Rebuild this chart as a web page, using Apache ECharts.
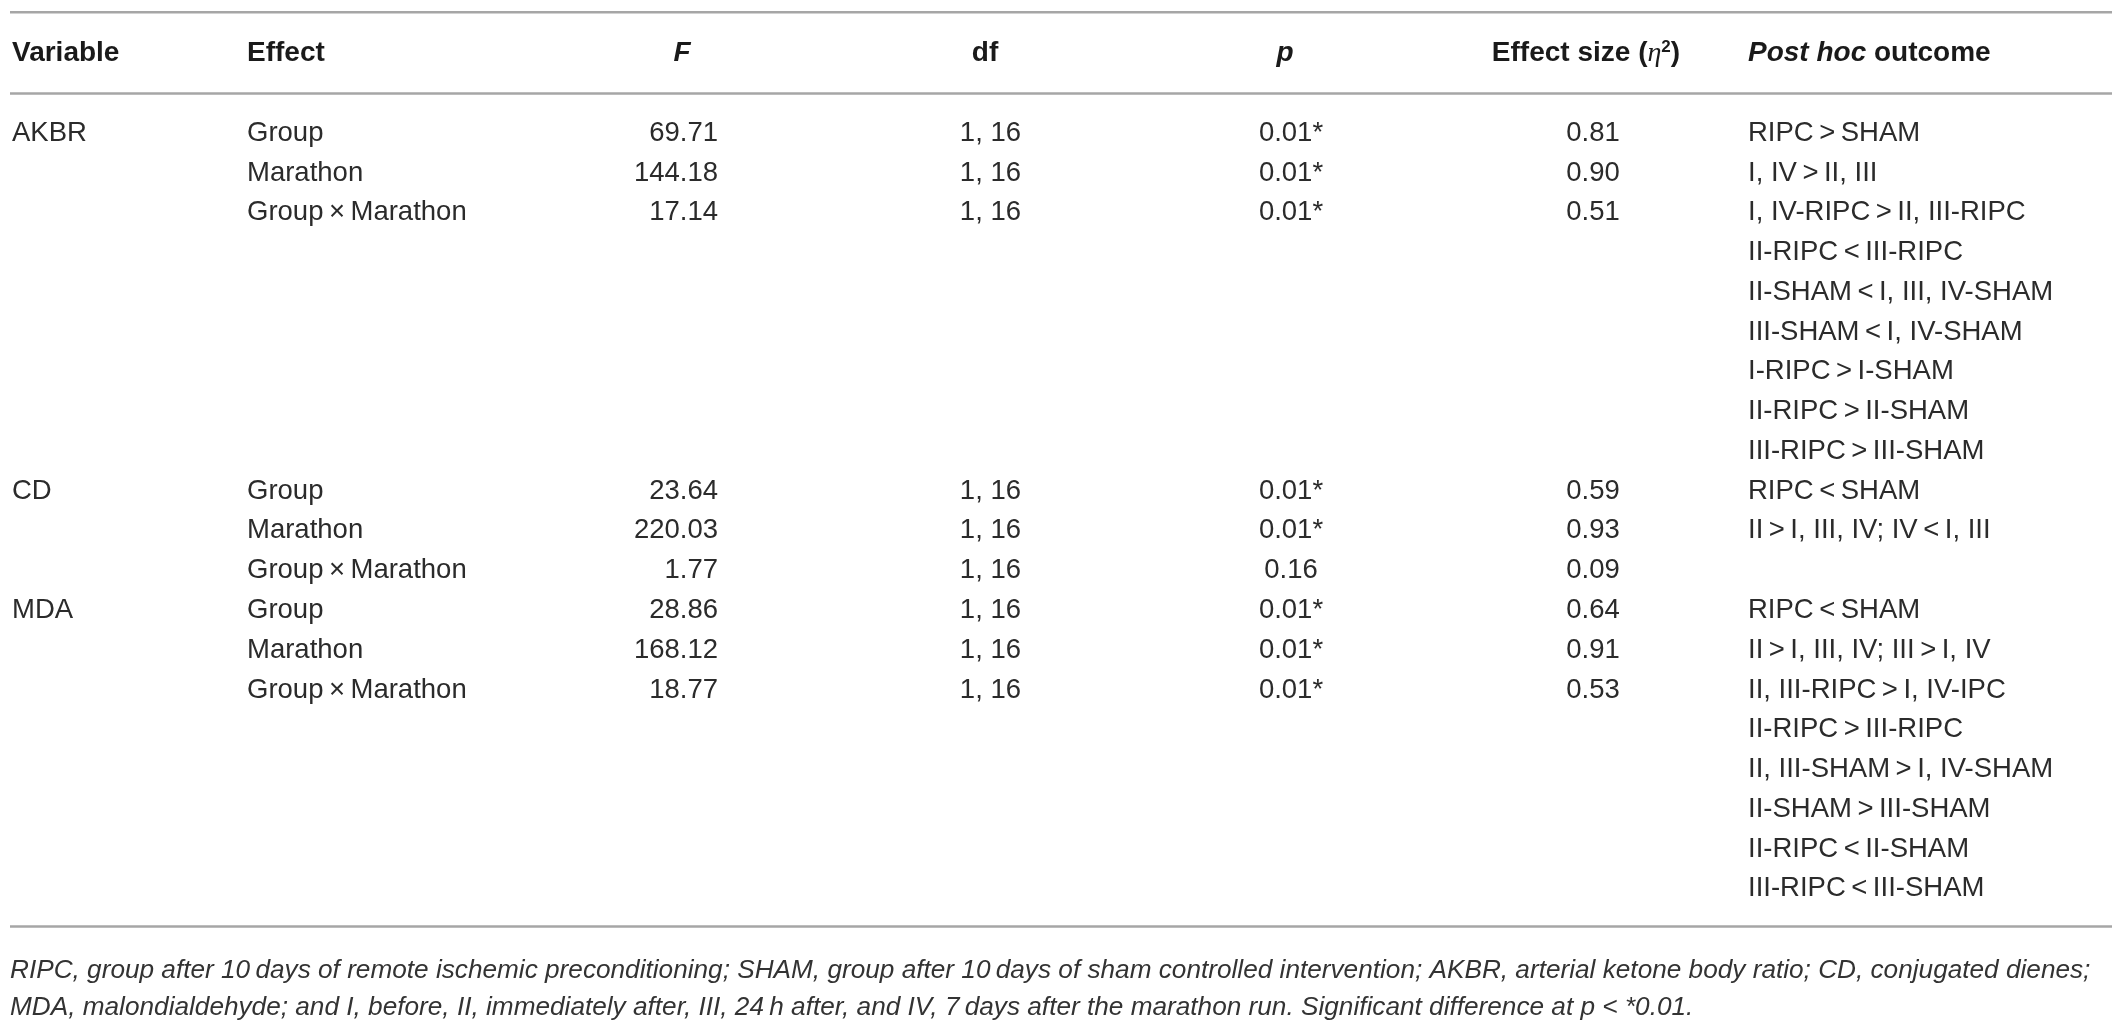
<!DOCTYPE html>
<html>
<head>
<meta charset="utf-8">
<title>Marathon ANOVA table</title>
<script src="https://cdn.jsdelivr.net/npm/echarts@6/dist/echarts.min.js"></script>
<style>html, body { margin: 0; padding: 0; background: #fff; }</style>
</head>
<body>
<div id="main" style="width:2125px;height:1020px;"></div>
<script type="text/javascript">
// ---- table contents ----
var headers = [
    '{b|Variable}',
    '{b|Effect}',
    '{bi|F}',
    '{b|df}',
    '{bi|p}',
    '{b|Effect size (}{eta|η}{sup|2}{b|)}',
    '{bi|Post hoc} {b|outcome}'
];
var variables = ['AKBR', 'CD', 'MDA'];
var effects = ['Group', 'Marathon', 'Group\u2009×\u2009Marathon'];
var fValues = ['69.71', '144.18', '17.14', '23.64', '220.03', '1.77', '28.86', '168.12', '18.77'];
var dfValues = ['1, 16', '1, 16', '1, 16', '1, 16', '1, 16', '1, 16', '1, 16', '1, 16', '1, 16'];
var pValues = ['0.01*', '0.01*', '0.01*', '0.01*', '0.01*', '0.16', '0.01*', '0.01*', '0.01*'];
var etaValues = ['0.81', '0.90', '0.51', '0.59', '0.93', '0.09', '0.64', '0.91', '0.53'];
var postHoc = [
    ['RIPC\u2009>\u2009SHAM'],
    ['I, IV\u2009>\u2009II, III'],
    ['I, IV-RIPC\u2009>\u2009II, III-RIPC', 'II-RIPC\u2009<\u2009III-RIPC', 'II-SHAM\u2009<\u2009I, III, IV-SHAM',
     'III-SHAM\u2009<\u2009I, IV-SHAM', 'I-RIPC\u2009>\u2009I-SHAM', 'II-RIPC\u2009>\u2009II-SHAM', 'III-RIPC\u2009>\u2009III-SHAM'],
    ['RIPC\u2009<\u2009SHAM'],
    ['II\u2009>\u2009I, III, IV; IV\u2009<\u2009I, III'],
    [],
    ['RIPC\u2009<\u2009SHAM'],
    ['II\u2009>\u2009I, III, IV; III\u2009>\u2009I, IV'],
    ['II, III-RIPC\u2009>\u2009I, IV-IPC', 'II-RIPC\u2009>\u2009III-RIPC', 'II, III-SHAM\u2009>\u2009I, IV-SHAM',
     'II-SHAM\u2009>\u2009III-SHAM', 'II-RIPC\u2009<\u2009II-SHAM', 'III-RIPC\u2009<\u2009III-SHAM']
];
var footnotes = [
    'RIPC, group after 10\u2009days of remote ischemic preconditioning; SHAM, group after 10\u2009days of sham controlled intervention; AKBR, arterial ketone body ratio; CD, conjugated dienes;',
    'MDA, malondialdehyde; and I, before, II, immediately after, III, 24\u2009h after, and IV, 7\u2009days after the marathon run. Significant difference at p < *0.01.'
];

// ---- layout (x in pixels, y in table rows) ----
var cols = [
    { x: 12,   align: 'left',   hx: 12,   halign: 'left' },
    { x: 247,  align: 'left',   hx: 247,  halign: 'left' },
    { x: 718,  align: 'right',  hx: 682,  halign: 'center' },
    { x: 1021, align: 'right',  hx: 985,  halign: 'center' },
    { x: 1291, align: 'center', hx: 1285, halign: 'center' },
    { x: 1593, align: 'center', hx: 1586, halign: 'center' },
    { x: 1748, align: 'left',   hx: 1748, halign: 'left' }
];
var headerRow = -2.0;
var ruleRows = [-3.04, -1.0, 19.95];
var footRows = [21.06, 22.0];
var ruleLeft = 10, ruleRight = 2112;

var FONT = '"Liberation Sans", Arial, sans-serif';
var bodyStyle = { fontSize: 27.5, fontFamily: FONT };
var headRich = {
    b: { fontSize: 28, fontFamily: FONT, fontWeight: 'bold', fill: '#1a1a1a' },
    bi: { fontSize: 28, fontFamily: FONT, fontWeight: 'bold', fontStyle: 'italic', fill: '#1a1a1a' },
    eta: { fontSize: 28, fontFamily: '"Liberation Serif", serif', fontStyle: 'italic', fill: '#1a1a1a' },
    sup: { fontSize: 17, fontFamily: FONT, fontWeight: 'bold', fill: '#1a1a1a', verticalAlign: 'top', padding: [0, 0, 12, 0] }
};

// ---- build cells ----
var cells = [];
function addCell(col, row, text, kind) {
    cells.push({ col: col, row: row, text: text, kind: kind });
}
headers.forEach(function (h, c) { addCell(c, headerRow, h, 'head'); });

var row = 0;
for (var i = 0; i < fValues.length; i++) {
    var v = Math.floor(i / 3), e = i % 3;
    if (e === 0) addCell(0, row, variables[v], 'body');
    addCell(1, row, effects[e], 'body');
    addCell(2, row, fValues[i], 'body');
    addCell(3, row, dfValues[i], 'body');
    addCell(4, row, pValues[i], 'body');
    addCell(5, row, etaValues[i], 'body');
    postHoc[i].forEach(function (line, k) { addCell(6, row + k, line, 'body'); });
    row += Math.max(1, postHoc[i].length);
}
footnotes.forEach(function (line, k) { addCell(0, footRows[k], line, 'foot'); });

var myChart = echarts.init(document.getElementById('main'), null, { renderer: 'canvas' });

var option = {
    animation: false,
    backgroundColor: '#fff',
    grid: { left: 0, right: 0, top: 2, height: 1018.6 },
    xAxis: { type: 'value', min: 0, max: 2125, show: false },
    yAxis: { type: 'value', min: -3.3, max: 22.3, inverse: true, show: false },
    series: [
        {
            // horizontal rules
            type: 'custom',
            silent: true,
            data: ruleRows.map(function (r) { return [ruleLeft, r]; }),
            encode: { x: 0, y: 1 },
            renderItem: function (params, api) {
                var a = api.coord([ruleLeft, api.value(1)]);
                var b = api.coord([ruleRight, api.value(1)]);
                return {
                    type: 'line',
                    shape: { x1: a[0], y1: a[1], x2: b[0], y2: b[1] },
                    style: { stroke: '#a6a6a6', lineWidth: 2.5 }
                };
            }
        },
        {
            // text cells
            type: 'custom',
            silent: true,
            data: cells.map(function (c, idx) {
                var col = cols[c.col];
                var x = c.kind === 'head' ? col.hx : (c.kind === 'foot' ? ruleLeft : col.x);
                return [x, c.row, idx];
            }),
            encode: { x: 0, y: 1 },
            renderItem: function (params, api) {
                var c = cells[api.value(2)];
                var col = cols[c.col];
                var p = api.coord([api.value(0), api.value(1)]);
                var style = {
                    text: c.text,
                    fill: '#2b2b2b',
                    align: c.kind === 'head' ? col.halign : (c.kind === 'foot' ? 'left' : col.align),
                    verticalAlign: 'middle'
                };
                if (c.kind === 'head') {
                    style.rich = headRich;
                    style.fontSize = 28;
                    style.fontFamily = FONT;
                } else if (c.kind === 'foot') {
                    style.fontSize = 26.2;
                    style.fontFamily = FONT;
                    style.fontStyle = 'italic';
                    style.fill = '#333';
                } else {
                    style.fontSize = bodyStyle.fontSize;
                    style.fontFamily = bodyStyle.fontFamily;
                }
                style.textAlign = style.align;
                style.textVerticalAlign = style.verticalAlign;
                return { type: 'text', x: p[0], y: p[1], style: style };
            }
        }
    ]
};

myChart.setOption(option);
</script>
</body>
</html>
